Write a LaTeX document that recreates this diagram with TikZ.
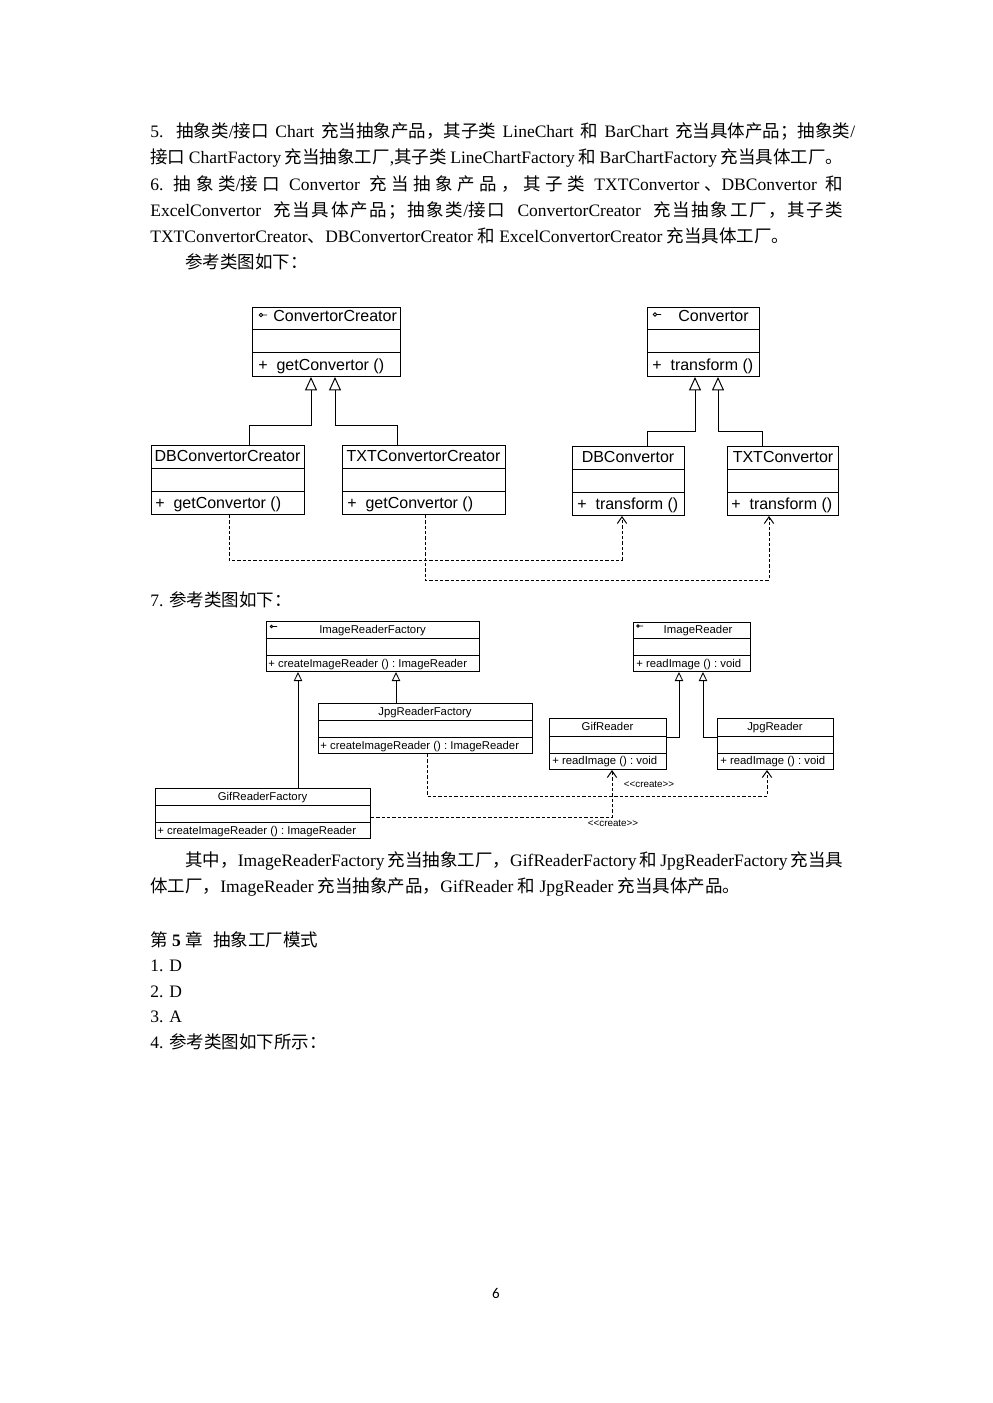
\documentclass[tikz,border=0pt]{standalone}
\usepackage{fontspec}
\setmainfont{Liberation Serif}
\newfontfamily\cjk{Noto Sans CJK SC}
\newfontfamily\arialf{Liberation Sans}
\newfontfamily\pagef{Carlito}
\usetikzlibrary{arrows.meta}
\newcommand\z[1]{{\cjk #1}}
\newcommand\jg{\hskip 0pt plus 1fil\relax}
\newcommand\jh{\hskip 0pt plus 0.2fil\relax}
\tikzset{
  cls/.style={draw, line width=0.6pt, inner sep=0pt, anchor=north west},
  big/.style={font=\arialf\fontsize{9.6}{11}\selectfont, inner sep=0pt},
  small/.style={font=\arialf\fontsize{6.8}{8}\selectfont, inner sep=0pt},
  tiny/.style={font=\arialf\fontsize{5.9}{7}\selectfont, inner sep=0pt},
  body/.style={font=\fontsize{10.5}{13}\selectfont, inner sep=0pt, anchor=base west},
  gen/.style={draw, line width=0.6pt, -{Triangle[open, length=8pt, width=7.2pt]}},
  gens/.style={draw, line width=0.5pt, -{Triangle[open, length=5.4pt, width=5pt]}},
  dep/.style={draw, line width=0.6pt, dash pattern=on 2pt off 1.2pt, -{Straight Barb[length=4pt, width=5.6pt]}},
  icon/.style={line width=0.5pt},
}
% name, x1, y1, x2, y2, div1, div2
\newcommand\umlbox[7]{%
  \node[cls, minimum width={(#4-#2)*0.6pt}, minimum height={(#5-#3)*0.6pt}] (#1) at (#2,#3) {};
  \draw[line width=0.6pt] (#2,#6) -- (#4,#6) (#2,#7) -- (#4,#7);
}
\begin{document}
\begin{tikzpicture}[x=0.6pt,y=-0.6pt]
\useasboundingbox (0,0) rectangle (992,1403);
\fill[white] (0,0) rectangle (992,1403);

% ---------- body text, part 1 ----------
\node[body] (l1) at (150,138) {\makebox[423pt][s]{5. \z{抽象类}/\z{接口} Chart \z{充当抽象产品，其子类} LineChart \z{和} BarChart \z{充当具体产品；抽象类}/}};
\node[body] (l2) at (150,164) {\makebox[415.8pt][s]{\z{接口} ChartFactory \z{充当抽象工厂},\z{其子类} LineChartFactory \z{和} BarChartFactory \z{充当具体工厂。}}};
\node[body] (l3) at (150,191) {\makebox[415.8pt][s]{6. \jg \z{抽\jg 象\jg 类}/\z{接\jg 口} \jg Convertor \jg \z{充\jg 当\jg 抽\jg 象\jg 产\jg 品\jg ，\jg 其\jg 子\jg 类} \jg TXTConvertor\jg \z{、}DBConvertor \jg \z{和}}};
\node[body] (l4) at (150,217) {\makebox[415.8pt][s]{ExcelConvertor\jg \ \z{充\jh 当\jh 具\jh 体\jh 产\jh 品\jh ；\jh 抽\jh 象\jh 类}/\z{接\jh 口}\jg \ ConvertorCreator\jg \ \z{充\jh 当\jh 抽\jh 象\jh 工\jh 厂\jh ，\jh 其\jh 子\jh 类}}};
\node[body] (l5) at (150,243) {TXTConvertorCreator\z{、}DBConvertorCreator \z{和} ExcelConvertorCreator \z{充当具体工厂。}};
\node[body] (l6) at (185,269) {\z{参考类图如下：}};

% ---------- diagram 1 ----------
\umlbox{cc}{252}{307}{400}{376}{330}{353}
\umlbox{dbcc}{151}{445}{304}{514}{468}{491.5}
\umlbox{txcc}{342}{445}{505}{514}{468}{491.5}
\umlbox{cv}{647}{307}{759}{376}{330}{353}
\umlbox{dbc}{572}{446}{684}{515}{469}{492}
\umlbox{txc}{727}{446}{838}{515}{469}{492}

\draw[icon] (261,315) circle (1.8) (262.8,315) -- (267,315);
\draw[icon] (655,314.5) circle (1.8) (656.8,314.5) -- (661,314.5);

\node[big, anchor=base west] (cct) at (273,322) {ConvertorCreator};
\node[big, anchor=base west] (ccm) at (258,370) {+\ \ getConvertor ()};
\node[big, anchor=base] (dbcct) at (227.5,461) {DBConvertorCreator};
\node[big, anchor=base west] (dbccm) at (155,508) {+\ \ getConvertor ()};
\node[big, anchor=base] (txcct) at (423.5,461) {TXTConvertorCreator};
\node[big, anchor=base west] (txccm) at (347,508) {+\ \ getConvertor ()};
\node[big, anchor=base west] (cvt) at (678,322) {Convertor};
\node[big, anchor=base west] (cvm) at (652,370) {+\ \ transform ()};
\node[big, anchor=base] (dbct) at (628,462) {DBConvertor};
\node[big, anchor=base west] (dbcm) at (577,509) {+\ \ transform ()};
\node[big, anchor=base] (txct) at (783,462) {TXTConvertor};
\node[big, anchor=base west] (txcm) at (731,509) {+\ \ transform ()};

\draw[gen] (249,0 |- dbcc.north) |- (311,425) -- (311,0 |- cc.south);
\draw[gen] (397,0 |- txcc.north) |- (335,425) -- (335,0 |- cc.south);
\draw[gen] (647,0 |- dbc.north) |- (695,431) -- (695,0 |- cv.south);
\draw[gen] (762,0 |- txc.north) |- (718,431) -- (718,0 |- cv.south);

\draw[dep] (229,0 |- dbcc.south) |- (622,560) -- (622,0 |- dbc.south);
\draw[dep] (425,0 |- txcc.south) |- (769,580) -- (769,0 |- txc.south);

% ---------- item 7 ----------
\node[body] (l7) at (150,606) {7. \z{参考类图如下：}};

\umlbox{irf}{266}{621}{479}{671}{638}{655}
\umlbox{jrf}{318}{703}{532}{753}{720}{737}
\umlbox{gfr}{155}{788}{370}{838}{805}{822}
\umlbox{ir}{633}{622}{750}{671}{638.5}{655}
\umlbox{gr}{549}{718}{666}{769}{736}{753}
\umlbox{jr}{717}{718}{833}{769}{736}{753}

\draw[icon] (271.5,626.5) circle (1.3) (272.8,626.5) -- (277,626.5);
\draw[icon] (638,626) circle (1.3) (639.3,626) -- (643,626);

\node[small, anchor=base] (irft) at (372.5,633) {ImageReaderFactory};
\node[small, anchor=base west] (irfm) at (268,667) {+\ createImageReader ()\ :\ ImageReader};
\node[small, anchor=base] (jrft) at (425,715) {JpgReaderFactory};
\node[small, anchor=base west] (jrfm) at (320,749) {+\ createImageReader ()\ :\ ImageReader};
\node[small, anchor=base] (gfrt) at (262.5,800) {GifReaderFactory};
\node[small, anchor=base west] (gfrm) at (157,834) {+\ createImageReader ()\ :\ ImageReader};
\node[small, anchor=base] (irt) at (698,633) {ImageReader};
\node[small, anchor=base west] (irm) at (636,667) {+\ readImage ()\ :\ void};
\node[small, anchor=base] (grt) at (607.5,730.5) {GifReader};
\node[small, anchor=base west] (grm) at (552,764.5) {+\ readImage ()\ :\ void};
\node[small, anchor=base] (jrt) at (775,730.5) {JpgReader};
\node[small, anchor=base west] (jrm) at (720,764.5) {+\ readImage ()\ :\ void};

\draw[gens] (298,0 |- gfr.north) -- (298,0 |- irf.south);
\draw[gens] (396,0 |- jrf.north) -- (396,0 |- irf.south);
\draw[gens] (gr.east |- 0,737) -| (679,0 |- ir.south);
\draw[gens] (jr.west |- 0,737) -| (703,0 |- ir.south);

\draw[dep] (427,0 |- jrf.south) |- (767,796) -- (767,0 |- jr.south);
\draw[dep] (gfr.east |- 0,817) -| (612,0 |- gr.south);
\node[tiny] (c1) at (649,784.5) {<{}<create>{}>};
\node[tiny] (c2) at (613,823) {<{}<create>{}>};

% ---------- body text, part 2 ----------
\node[body] (p1) at (185,866) {\makebox[394.8pt][s]{\z{其中，}ImageReaderFactory \z{充当抽象工厂，}GifReaderFactory \z{和} JpgReaderFactory \z{充当具}}};
\node[body] (p2) at (150,892) {\z{体工厂，}ImageReader \z{充当抽象产品，}GifReader \z{和} JpgReader \z{充当具体产品。}};
\node[body] (h5) at (150,946) {\z{第} \textbf{5} \z{章}\hspace{0.6em}\z{抽象工厂模式}};
\node[body] (a1) at (150,971) {1. D};
\node[body] (a2) at (150,997) {2. D};
\node[body] (a3) at (150,1022) {3. A};
\node[body] (a4) at (150,1048) {4. \z{参考类图如下所示：}};

\node[font=\pagef\fontsize{9}{11}\selectfont, inner sep=0pt, anchor=base] (pg) at (496,1298) {6};
\end{tikzpicture}
\end{document}
